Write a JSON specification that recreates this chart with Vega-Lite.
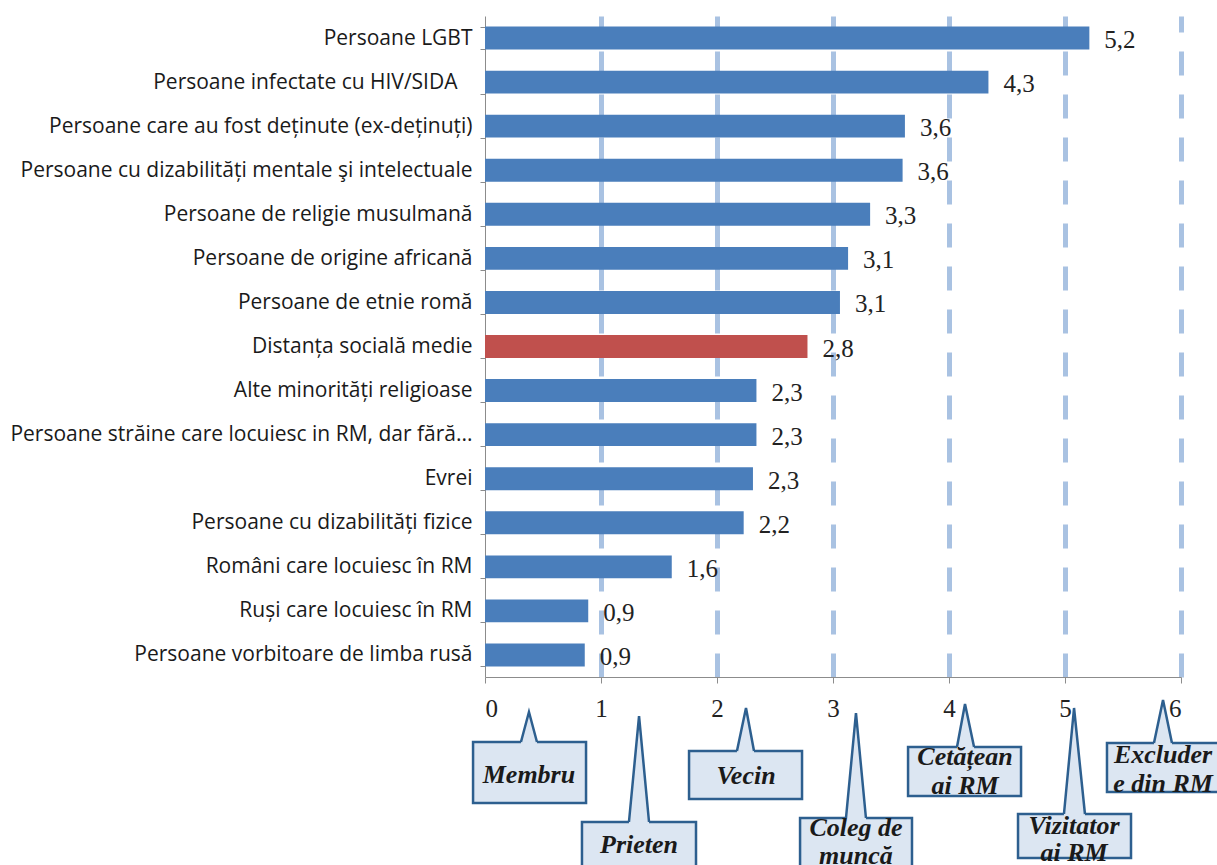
{
  "$schema": "https://vega.github.io/schema/vega-lite/v6.json",
  "padding": {"left": 9, "top": 5, "right": 0, "bottom": 0},
  "background": "white",
  "config": {
    "view": {"stroke": null},
    "locale": {"number": {"decimal": ",", "thousands": ".", "grouping": [3], "currency": ["", " lei"]}}
  },
  "datasets": {
    "bars": [
      {"cat": "Persoane LGBT", "v": 5.21},
      {"cat": "Persoane infectate cu HIV/SIDA\u2800", "v": 4.34},
      {"cat": "Persoane care au fost deținute (ex-deținuți)", "v": 3.62},
      {"cat": "Persoane cu dizabilități mentale şi intelectuale", "v": 3.6},
      {"cat": "Persoane de religie musulmană", "v": 3.32},
      {"cat": "Persoane de origine africană", "v": 3.13},
      {"cat": "Persoane de etnie romă", "v": 3.06},
      {"cat": "Distanța socială medie", "v": 2.78},
      {"cat": "Alte minorități religioase", "v": 2.34},
      {"cat": "Persoane străine care locuiesc in RM, dar fără...", "v": 2.34},
      {"cat": "Evrei", "v": 2.31},
      {"cat": "Persoane cu dizabilități fizice", "v": 2.23},
      {"cat": "Români care locuiesc în RM", "v": 1.61},
      {"cat": "Ruși care locuiesc în RM", "v": 0.89},
      {"cat": "Persoane vorbitoare de limba rusă", "v": 0.86}
    ],
    "boxes": [
      {"id": "Membru", "x1": -0.103, "x2": 0.871, "y1": 42, "y2": 103},
      {"id": "Prieten", "x1": 0.836, "x2": 1.819, "y1": 122, "y2": 175},
      {"id": "Vecin", "x1": 1.759, "x2": 2.733, "y1": 51, "y2": 99},
      {"id": "Coleg", "x1": 2.716, "x2": 3.681, "y1": 118, "y2": 175},
      {"id": "Cetatean", "x1": 3.647, "x2": 4.621, "y1": 47, "y2": 96},
      {"id": "Vizitator", "x1": 4.595, "x2": 5.569, "y1": 114, "y2": 158},
      {"id": "Excludere", "x1": 5.362, "x2": 6.379, "y1": 43, "y2": 92}
    ],
    "pointers": [
      {"id": "Membru", "x": 0.31, "top": 42, "base": 42},
      {"id": "Membru", "x": 0.379, "top": 12, "base": 42},
      {"id": "Membru", "x": 0.448, "top": 42, "base": 42},
      {"id": "Prieten", "x": 1.241, "top": 122, "base": 122},
      {"id": "Prieten", "x": 1.328, "top": 16, "base": 122},
      {"id": "Prieten", "x": 1.414, "top": 122, "base": 122},
      {"id": "Vecin", "x": 2.172, "top": 51, "base": 51},
      {"id": "Vecin", "x": 2.25, "top": 8, "base": 51},
      {"id": "Vecin", "x": 2.319, "top": 51, "base": 51},
      {"id": "Coleg", "x": 3.112, "top": 118, "base": 118},
      {"id": "Coleg", "x": 3.198, "top": 13, "base": 118},
      {"id": "Coleg", "x": 3.284, "top": 118, "base": 118},
      {"id": "Cetatean", "x": 4.069, "top": 47, "base": 47},
      {"id": "Cetatean", "x": 4.138, "top": 4, "base": 47},
      {"id": "Cetatean", "x": 4.216, "top": 47, "base": 47},
      {"id": "Vizitator", "x": 4.991, "top": 114, "base": 114},
      {"id": "Vizitator", "x": 5.078, "top": 8, "base": 114},
      {"id": "Vizitator", "x": 5.172, "top": 114, "base": 114},
      {"id": "Excludere", "x": 5.767, "top": 43, "base": 43},
      {"id": "Excludere", "x": 5.845, "top": 0, "base": 43},
      {"id": "Excludere", "x": 5.922, "top": 43, "base": 43}
    ],
    "labels": [
      {"t": "Membru", "x": 0.379, "y": 75},
      {"t": "Prieten", "x": 1.328, "y": 145},
      {"t": "Vecin", "x": 2.25, "y": 76},
      {"t": "Coleg de", "x": 3.198, "y": 128},
      {"t": "muncă", "x": 3.198, "y": 156},
      {"t": "Cetățean", "x": 4.138, "y": 57},
      {"t": "ai RM", "x": 4.138, "y": 86},
      {"t": "Vizitator", "x": 5.078, "y": 126},
      {"t": "ai RM", "x": 5.078, "y": 153},
      {"t": "Excluder", "x": 5.845, "y": 55},
      {"t": "e din RM", "x": 5.845, "y": 84}
    ]
  },
  "bounds": "flush",
  "spacing": 23,
  "vconcat": [
    {
      "width": 696,
      "height": 661,
      "data": {"name": "bars"},
      "encoding": {
        "y": {
          "field": "cat", "type": "nominal", "sort": null,
          "scale": {"paddingInner": 0.48, "paddingOuter": 0.24},
          "axis": {
            "title": null, "labelFont": "Open Sans", "labelFontSize": 21,
            "labelColor": "#1a1a1a", "labelPadding": 8, "labelLimit": 600,
            "tickBand": "extent", "tickSize": 5, "tickColor": "#8c8c8c",
            "domainColor": "#8c8c8c", "grid": false
          }
        },
        "x": {
          "field": "v", "type": "quantitative",
          "scale": {"domain": [0, 6], "nice": false},
          "axis": {
            "title": null, "values": [0, 1, 2, 3, 4, 5, 6], "format": "d",
            "labelFont": "Liberation Serif", "labelFontSize": 25, "labelColor": "#222",
            "labelPadding": 13, "tickSize": 6, "tickColor": "#8c8c8c", "domainColor": "#8c8c8c",
            "grid": true, "gridColor": "#a9c2e2", "gridWidth": 5, "gridDash": [24, 19],
            "gridOpacity": {"condition": {"test": "datum.value === 0", "value": 0}, "value": 1}
          }
        }
      },
      "layer": [
        {
          "mark": {"type": "bar"},
          "encoding": {
            "color": {
              "condition": {"test": "datum.cat === 'Distanța socială medie'", "value": "#c0504d"},
              "value": "#4a7ebb"
            }
          }
        },
        {
          "mark": {"type": "text", "align": "left", "dx": 15, "dy": 2, "font": "Liberation Serif", "fontSize": 25, "color": "#222"},
          "encoding": {"text": {"field": "v", "type": "quantitative", "format": ".1f"}}
        }
      ]
    },
    {
      "width": 696,
      "height": 170,
      "layer": [
        {
          "data": {"name": "boxes"},
          "mark": {"type": "rect", "fill": "#dce6f2", "stroke": "#2d5f8f", "strokeWidth": 2.5},
          "encoding": {
            "x": {"field": "x1", "type": "quantitative", "scale": {"domain": [0, 6], "nice": false, "zero": false}, "axis": null},
            "x2": {"field": "x2"},
            "y": {"field": "y1", "type": "quantitative", "scale": {"domain": [0, 170], "reverse": true, "nice": false, "zero": false}, "axis": null},
            "y2": {"field": "y2"}
          }
        },
        {
          "data": {"name": "pointers"},
          "mark": {"type": "area", "fill": "#dce6f2", "y2Offset": 2},
          "encoding": {
            "x": {"field": "x", "type": "quantitative"},
            "y": {"field": "top", "type": "quantitative"},
            "y2": {"field": "base"},
            "detail": {"field": "id"}
          }
        },
        {
          "data": {"name": "pointers"},
          "mark": {"type": "line", "stroke": "#2d5f8f", "strokeWidth": 2.5, "strokeJoin": "miter"},
          "encoding": {
            "x": {"field": "x", "type": "quantitative"},
            "y": {"field": "top", "type": "quantitative"},
            "detail": {"field": "id"}
          }
        },
        {
          "data": {"name": "labels"},
          "mark": {"type": "text", "font": "Liberation Serif", "fontSize": 26, "fontWeight": "bold", "fontStyle": "italic", "color": "#1a1a1a", "baseline": "middle"},
          "encoding": {
            "x": {"field": "x", "type": "quantitative"},
            "y": {"field": "y", "type": "quantitative"},
            "text": {"field": "t"}
          }
        }
      ]
    }
  ]
}
